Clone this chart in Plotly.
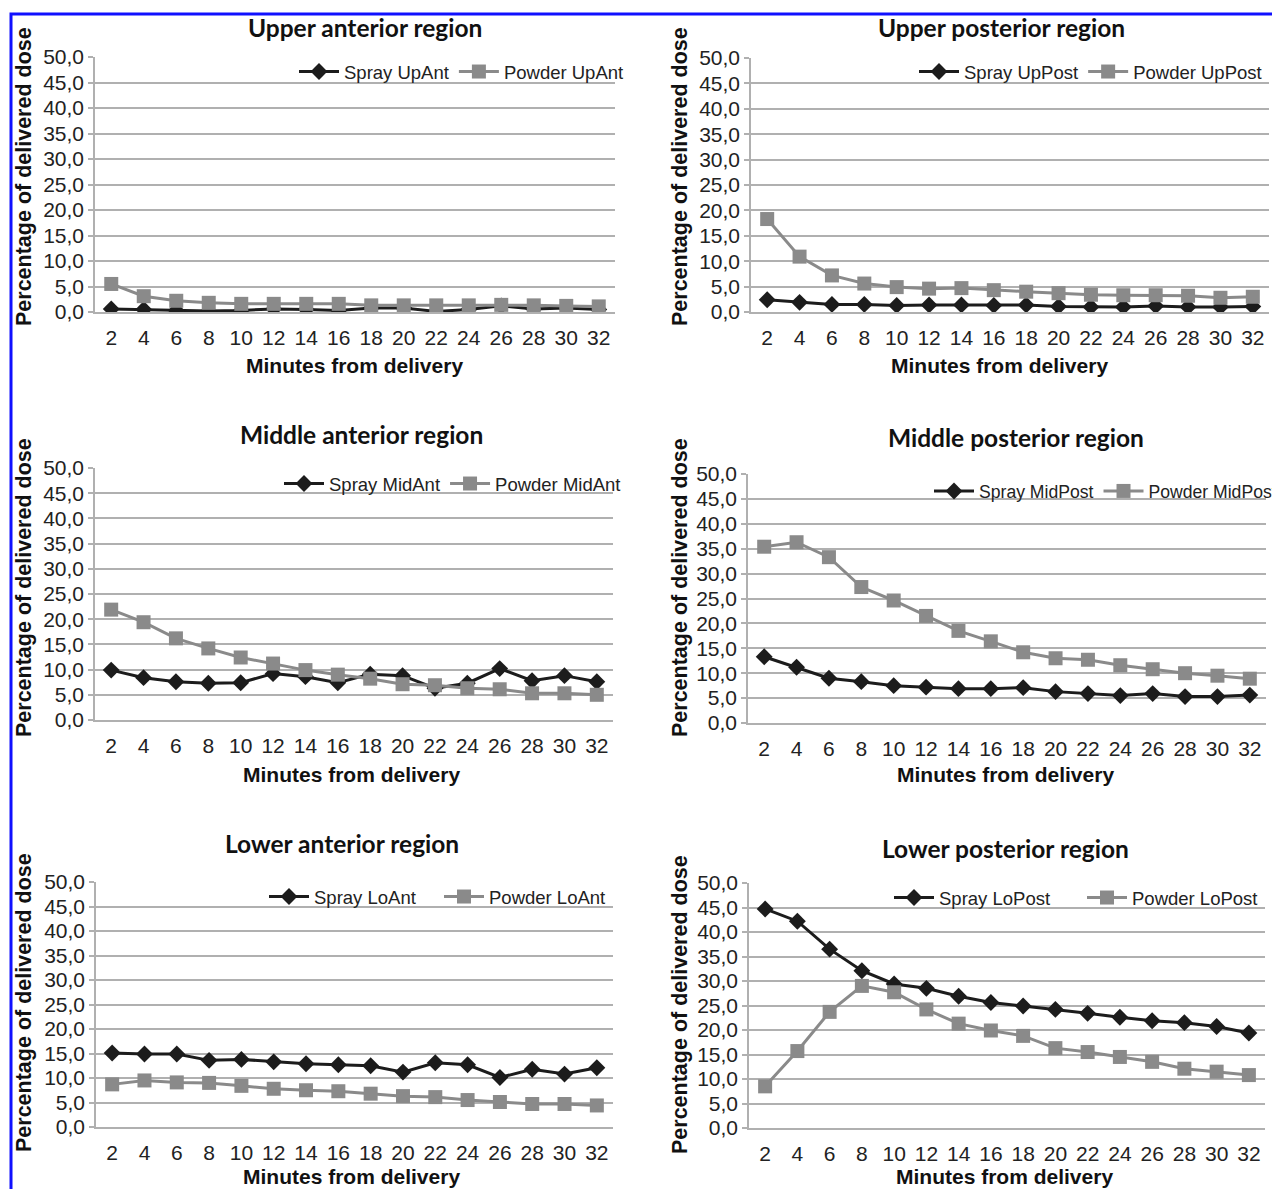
import plotly.graph_objects as go

# ---------------- data ----------------
minutes = [2, 4, 6, 8, 10, 12, 14, 16, 18, 20, 22, 24, 26, 28, 30, 32]
ytick_values = [0, 5, 10, 15, 20, 25, 30, 35, 40, 45, 50]
ytick_labels = ["0,0", "5,0", "10,0", "15,0", "20,0", "25,0", "30,0", "35,0", "40,0", "45,0", "50,0"]

spray_upant = [0.6, 0.5, 0.3, 0.2, 0.3, 0.6, 0.5, 0.3, 0.8, 0.8, 0.1, 0.5, 1.2, 0.6, 0.8, 0.5]
powder_upant = [5.5, 3.1, 2.2, 1.8, 1.6, 1.6, 1.6, 1.6, 1.3, 1.3, 1.3, 1.3, 1.4, 1.3, 1.2, 1.1]

spray_uppost = [2.4, 1.9, 1.5, 1.5, 1.3, 1.4, 1.4, 1.3, 1.4, 1.1, 1.0, 1.0, 1.2, 1.0, 1.0, 1.1]
powder_uppost = [18.3, 10.9, 7.2, 5.6, 4.9, 4.6, 4.7, 4.3, 4.0, 3.7, 3.4, 3.3, 3.3, 3.2, 2.8, 3.0]

spray_midant = [9.9, 8.4, 7.6, 7.3, 7.4, 9.2, 8.6, 7.4, 9.1, 8.8, 6.3, 7.3, 10.2, 7.8, 8.8, 7.6]
powder_midant = [21.9, 19.4, 16.2, 14.2, 12.4, 11.2, 9.9, 9.0, 8.2, 7.1, 6.9, 6.3, 6.1, 5.3, 5.3, 5.0]

spray_midpost = [13.3, 11.2, 9.0, 8.3, 7.5, 7.2, 6.9, 6.9, 7.1, 6.3, 5.9, 5.5, 5.9, 5.3, 5.3, 5.6]
powder_midpost = [35.4, 36.3, 33.3, 27.3, 24.6, 21.5, 18.5, 16.4, 14.2, 13.0, 12.7, 11.6, 10.8, 10.0, 9.5, 8.9]

spray_loant = [15.1, 14.9, 14.9, 13.6, 13.8, 13.3, 12.9, 12.7, 12.5, 11.2, 13.1, 12.7, 10.1, 11.8, 10.8, 12.1]
powder_loant = [8.7, 9.5, 9.1, 9.0, 8.4, 7.8, 7.5, 7.3, 6.8, 6.3, 6.1, 5.5, 5.1, 4.7, 4.7, 4.4]

spray_lopost = [44.7, 42.2, 36.5, 32.1, 29.4, 28.5, 26.9, 25.6, 24.9, 24.2, 23.4, 22.6, 21.9, 21.5, 20.7, 19.4]
powder_lopost = [8.5, 15.7, 23.7, 29.0, 27.7, 24.2, 21.3, 19.9, 18.8, 16.3, 15.5, 14.5, 13.5, 12.1, 11.5, 10.8]

panel_titles = ["Upper anterior region", "Upper posterior region", "Middle anterior region",
                "Middle posterior region", "Lower anterior region", "Lower posterior region"]
spray_names = ["Spray UpAnt", "Spray UpPost", "Spray MidAnt", "Spray MidPost", "Spray LoAnt", "Spray LoPost"]
powder_names = ["Powder UpAnt", "Powder UpPost", "Powder MidAnt", "Powder MidPost", "Powder LoAnt", "Powder LoPost"]
spray_series = [spray_upant, spray_uppost, spray_midant, spray_midpost, spray_loant, spray_lopost]
powder_series = [powder_upant, powder_uppost, powder_midant, powder_midpost, powder_loant, powder_lopost]
x_title = "Minutes from delivery"
y_title = "Percentage of delivered dose"

# ---------------- layout geometry (page pixels) ----------------
OFF = 8                      # default page body margin
W, H = 1280 - OFF, 1189 - OFF
# plot boxes: x0, x1, ytop(50), ybottom(0)
boxes = [(95, 615, 57, 312), (751, 1269, 58, 312),
         (95, 613, 468, 720), (748, 1266, 474, 723),
         (96, 613, 882, 1127), (749, 1265, 883, 1128)]
title_pos = [(365, 28), (1001, 28), (361, 435), (1016, 437), (342, 843), (1005, 848)]
xtitle_pos = [(354, 366), (999, 366), (351, 774), (1005, 774), (351, 1176), (1004, 1176)]
ytitle_pos = [(24, 177), (680, 177), (24, 588), (680, 588), (24, 1003), (680, 1005)]
# legend left x, centre y, entry width (None = natural), font size
legend_pos = [(294, 72, None, 18.5), (914, 72, None, 18.5), (279, 484, None, 18.5),
              (929, 491, None, 17.6), (264, 897, 120, 18.5), (889, 898, 138, 18.5)]

def px(x):
    return (x - OFF) / W

def py(y):
    return 1 - (y - OFF) / H

BLACK = "#1c1c1c"
GRAY = "#8a8a8a"
GRID = "#b0b0b0"
TICKFONT = dict(family="Liberation Sans, Arial", size=21, color="#222222")

fig = go.Figure()
layout = dict(
    width=W, height=H,
    margin=dict(l=0, r=0, t=0, b=0, autoexpand=False),
    paper_bgcolor="white", plot_bgcolor="white",
    showlegend=True,
    annotations=[], shapes=[],
)

for i in range(6):
    n = i + 1
    xa = "xaxis" if n == 1 else f"xaxis{n}"
    ya = "yaxis" if n == 1 else f"yaxis{n}"
    xr = "x" if n == 1 else f"x{n}"
    yr = "y" if n == 1 else f"y{n}"
    lg = "legend" if n == 1 else f"legend{n}"
    x0, x1, yt, yb = boxes[i]
    layout[xa] = dict(domain=[px(x0), px(x1)], range=[1, 33], anchor=yr,
                      tickmode="array", tickvals=minutes, ticktext=[str(m) for m in minutes],
                      showgrid=False, zeroline=False, showline=True, linecolor=GRID, linewidth=1.5,
                      ticks="", ticklabelstandoff=6, tickfont=TICKFONT, fixedrange=True,
                      automargin=False)
    layout[ya] = dict(domain=[py(yb), py(yt)], range=[0, 50], anchor=xr,
                      tickmode="array", tickvals=ytick_values, ticktext=ytick_labels,
                      showgrid=True, gridcolor=GRID, gridwidth=1.5, zeroline=False,
                      showline=True, linecolor=GRID, linewidth=1.5,
                      ticks="outside", ticklen=5, tickcolor=GRID, tickwidth=1.5,
                      tickfont=TICKFONT, fixedrange=True, automargin=False)
    lx, ly, ew, lfs = legend_pos[i]
    leg = dict(x=px(lx), y=py(ly), xanchor="left", yanchor="middle",
               orientation="h", bgcolor="rgba(0,0,0,0)", itemwidth=40,
               font=dict(family="Liberation Sans, Arial", size=lfs, color="#222222"))
    if ew:
        leg.update(entrywidth=ew, entrywidthmode="pixels")
    layout[lg] = leg
    fig.add_trace(go.Scatter(x=minutes, y=spray_series[i], name=spray_names[i], mode="lines+markers",
                             xaxis=xr, yaxis=yr, legend=lg,
                             line=dict(color=BLACK, width=3),
                             marker=dict(symbol="diamond", size=13, color=BLACK)))
    fig.add_trace(go.Scatter(x=minutes, y=powder_series[i], name=powder_names[i], mode="lines+markers",
                             xaxis=xr, yaxis=yr, legend=lg,
                             line=dict(color=GRAY, width=3),
                             marker=dict(symbol="square", size=14, color=GRAY)))
    tx, ty = title_pos[i]
    layout["annotations"].append(dict(text=f"<b>{panel_titles[i]}</b>", x=px(tx), y=py(ty),
                                      xref="paper", yref="paper", showarrow=False,
                                      xanchor="center", yanchor="middle",
                                      font=dict(family="Lato, Open Sans", size=24.5, color="#111111")))
    ax_, ay_ = xtitle_pos[i]
    layout["annotations"].append(dict(text=f"<b>{x_title}</b>", x=px(ax_), y=py(ay_),
                                      xref="paper", yref="paper", showarrow=False,
                                      xanchor="center", yanchor="middle",
                                      font=dict(family="Liberation Sans, Arial", size=21, color="#111111")))
    yx, yy = ytitle_pos[i]
    layout["annotations"].append(dict(text=f"<b>{y_title}</b>", x=px(yx), y=py(yy),
                                      xref="paper", yref="paper", showarrow=False, textangle=-90,
                                      xanchor="center", yanchor="middle",
                                      font=dict(family="Liberation Sans, Arial", size=21.5, color="#111111")))

# blue frame around the figure image
layout["shapes"].append(dict(type="rect", xref="paper", yref="paper",
                             x0=px(11), x1=px(1279), y0=py(1200), y1=py(14),
                             line=dict(color="#1010ff", width=3), layer="above"))

fig.update_layout(**layout)
fig.write_html("out.html")
